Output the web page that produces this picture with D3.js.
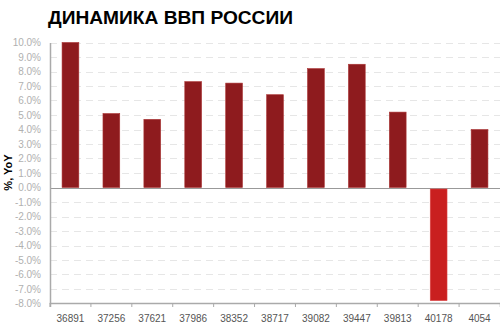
<!DOCTYPE html>
<html>
<meta charset="utf-8">
<head>
<style>
body { margin: 0; background: #fff; }
.axis text { font-family: "Liberation Sans", Arial, sans-serif; }
</style>
</head>
<body>
<script src="https://d3js.org/d3.v7.min.js"></script>
<script>

var categories = ["36891", "37256", "37621", "37986", "38352", "38717", "39082", "39447", "39813", "40178", "4054"];
var gdpGrowth = [10.0, 5.1, 4.7, 7.3, 7.2, 6.4, 8.2, 8.5, 5.2, -7.8, 4.0];
var yTicks = [10, 9, 8, 7, 6, 5, 4, 3, 2, 1, 0, -1, -2, -3, -4, -5, -6, -7, -8];

var margin = {top: 42, right: 0, bottom: 29, left: 50},
    width = 500 - margin.left - margin.right,
    height = 332 - margin.top - margin.bottom;

var svg = d3.select("body").append("svg")
    .attr("width", 500)
    .attr("height", 332);

svg.append("text")
    .attr("x", 48)
    .attr("y", 24)
    .attr("textLength", 245)
    .attr("lengthAdjust", "spacingAndGlyphs")
    .style("font-family", "Liberation Sans, Arial, sans-serif")
    .style("font-weight", "bold")
    .style("font-size", "19px")
    .text("ДИНАМИКА ВВП РОССИИ");

var g = svg.append("g")
    .attr("transform", "translate(" + margin.left + "," + margin.top + ")");

var x = d3.scaleBand().domain(categories).range([0, width]).paddingInner(0.59).paddingOuter(0.295);
var xTickScale = d3.scaleBand().domain(categories).range([0, width]);
var y = d3.scaleLinear().domain([-8, 10]).range([height + 0.5, 0.5]);

// dashed grid
g.selectAll(".grid")
    .data(yTicks.filter(function(d) { return d !== 0 && d !== -8; }))
    .enter().append("line")
    .attr("x1", 0)
    .attr("x2", width)
    .attr("y1", function(d) { return Math.round(y(d)) + 0.5; })
    .attr("y2", function(d) { return Math.round(y(d)) + 0.5; })
    .style("stroke", "#e6e6e6")
    .style("stroke-dasharray", "7,5");

// zero line
g.append("line")
    .attr("x1", 0)
    .attr("x2", width)
    .attr("y1", Math.round(y(0)) + 0.5)
    .attr("y2", Math.round(y(0)) + 0.5)
    .style("stroke", "#999");

// bars
g.selectAll(".bar")
    .data(gdpGrowth)
    .enter().append("rect")
    .attr("x", function(d, i) { return x(categories[i]); })
    .attr("width", x.bandwidth())
    .attr("y", function(d) { return d < 0 ? y(0) + 1.5 : y(d); })
    .attr("height", function(d) { return d < 0 ? y(d) - y(0) - 1.5 : y(0) - y(d); })
    .style("fill", function(d) { return d < 0 ? "#c91f1f" : "#8e1b1e"; })
    .style("stroke", function(d) { return d < 0 ? "#d44" : "#a33"; })
    .style("stroke-width", 0.6);

// y axis
var yAxis = d3.axisLeft(y)
    .tickValues(yTicks)
    .tickSize(0)
    .tickPadding(9)
    .tickFormat(function(d) { return d.toFixed(1) + "%"; });

var ya = g.append("g").attr("class", "axis").call(yAxis);
ya.select(".domain").style("stroke", "#aaa").style("stroke-width", 1.5);
ya.selectAll("text").style("fill", "#b0b0b0").style("font-size", "10px");

// x axis
var xAxis = d3.axisBottom(xTickScale)
    .tickSize(4)
    .tickSizeOuter(4)
    .tickPadding(8);

var xa = g.append("g").attr("class", "axis")
    .attr("transform", "translate(0," + height + ")")
    .call(xAxis);
xa.select(".domain").style("stroke", "#aaa").style("stroke-width", 1.5);
xa.selectAll(".tick line")
    .attr("transform", function() { return "translate(" + (-xTickScale.bandwidth() / 2) + ",0)"; })
    .style("stroke", "#aaa");
xa.selectAll("text").style("fill", "#555").style("font-size", "10px");

// y label
svg.append("text")
    .attr("transform", "translate(12," + (margin.top + height / 2) + ") rotate(-90)")
    .style("text-anchor", "middle")
    .style("font-family", "Liberation Sans, Arial, sans-serif")
    .style("font-weight", "bold")
    .style("font-size", "11px")
    .text("%, YoY");

</script>
</body>
</html>
